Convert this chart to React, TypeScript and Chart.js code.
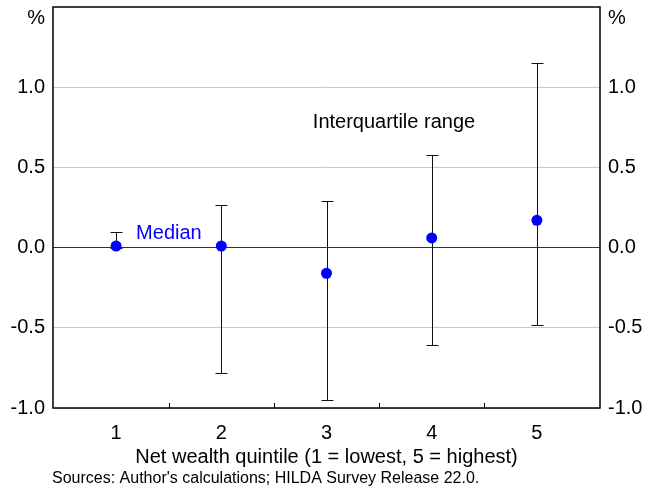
import React, { useEffect, useRef } from "react";
import { Chart, registerables } from "chart.js";

Chart.register(...registerables);

const quintiles = [1, 2, 3, 4, 5];
const medianValues = [0.01, 0.01, -0.16, 0.06, 0.17];
const lowerQuartile = [0.0, -0.78, -0.95, -0.61, -0.48];
const upperQuartile = [0.1, 0.265, 0.29, 0.58, 1.15];
const yTicks = [-1, -0.5, 0, 0.5, 1];
const xBoundaries = [1.5, 2.5, 3.5, 4.5];

const FONT = "Arial, 'Liberation Sans', sans-serif";
const BLUE = "#0000ff";

const overlayPlugin = {
  id: "overlay",
  beforeDatasetsDraw(chart: any) {
    const { ctx, chartArea, scales } = chart;
    const x = scales.x;
    const y = scales.y;
    ctx.save();
    // frame
    ctx.strokeStyle = "#000";
    ctx.lineWidth = 1.5;
    ctx.strokeRect(chartArea.left, chartArea.top, chartArea.right - chartArea.left, chartArea.bottom - chartArea.top);
    // inward tick marks between categories
    ctx.lineWidth = 1;
    ctx.beginPath();
    xBoundaries.forEach((b) => {
      const px = Math.round(x.getPixelForValue(b)) + 0.5;
      ctx.moveTo(px, chartArea.bottom);
      ctx.lineTo(px, chartArea.bottom - 5);
    });
    ctx.stroke();
    // interquartile whiskers
    ctx.strokeStyle = "#111";
    ctx.lineWidth = 1;
    quintiles.forEach((q, i) => {
      const px = Math.round(x.getPixelForValue(q)) + 0.5;
      const lo = Math.round(y.getPixelForValue(lowerQuartile[i])) + 0.5;
      const hi = Math.round(y.getPixelForValue(upperQuartile[i])) + 0.5;
      ctx.beginPath();
      ctx.moveTo(px, lo);
      ctx.lineTo(px, hi);
      ctx.moveTo(px - 6, lo);
      ctx.lineTo(px + 6, lo);
      ctx.moveTo(px - 6, hi);
      ctx.lineTo(px + 6, hi);
      ctx.stroke();
    });
    ctx.restore();
  },
  afterDraw(chart: any) {
    const { ctx, chartArea, scales } = chart;
    const x = scales.x;
    const y = scales.y;
    ctx.save();
    ctx.textBaseline = "middle";
    ctx.font = `20px ${FONT}`;
    ctx.fillStyle = "#000";
    // unit labels
    ctx.textAlign = "right";
    ctx.fillText("%", chartArea.left - 8, chartArea.top + 11);
    ctx.textAlign = "left";
    ctx.fillText("%", chartArea.right + 8, chartArea.top + 11);
    // annotations
    ctx.fillStyle = BLUE;
    ctx.fillText("Median", x.getPixelForValue(1.19), y.getPixelForValue(0.085));
    ctx.fillStyle = "#000";
    ctx.fillText("Interquartile range", x.getPixelForValue(2.87), y.getPixelForValue(0.78));
    // source
    ctx.font = `16px ${FONT}`;
    ctx.fillText("Sources: Author's calculations; HILDA Survey Release 22.0.", 52, 479);
    ctx.restore();
  },
};

function noPad(s: any) {
  s.paddingTop = 0;
  s.paddingBottom = 0;
  s.paddingLeft = 0;
  s.paddingRight = 0;
}

export default function App() {
  const canvasRef = useRef<HTMLCanvasElement | null>(null);

  useEffect(() => {
    if (!canvasRef.current) return;
    Chart.defaults.font.family = FONT;
    const tickFont = { family: FONT, size: 20 };
    const chart = new Chart(canvasRef.current, {
      type: "scatter",
      data: {
        datasets: [
          {
            label: "Median",
            data: quintiles.map((q, i) => ({ x: q, y: medianValues[i] })),
            backgroundColor: BLUE,
            borderColor: BLUE,
            pointRadius: 5.5,
            pointBorderWidth: 0,
          },
        ],
      },
      options: {
        responsive: false,
        animation: false,
        layout: { padding: { top: 7, left: 0, right: 0, bottom: 0 } },
        plugins: { legend: { display: false }, tooltip: { enabled: false } },
        scales: {
          x: {
            type: "linear",
            min: 0.4,
            max: 5.6,
            afterBuildTicks: (s: any) => {
              s.ticks = quintiles.map((v) => ({ value: v }));
            },
            afterFit: (s: any) => {
              s.height = 80;
              noPad(s);
            },
            grid: { display: false, drawTicks: false },
            border: { display: false },
            ticks: {
              font: tickFont,
              color: "#000",
              padding: 13,
              maxRotation: 0,
              autoSkip: false,
              callback: (v: any) => String(v),
            },
            title: {
              display: true,
              text: "Net wealth quintile (1 = lowest, 5 = highest)",
              font: { family: FONT, size: 20 },
              color: "#000",
              padding: { top: 0, bottom: 19 },
            },
          },
          y: {
            position: "left",
            min: -1,
            max: 1.5,
            afterBuildTicks: (s: any) => {
              s.ticks = yTicks.map((v) => ({ value: v }));
            },
            afterFit: (s: any) => {
              s.width = 53;
              noPad(s);
            },
            grid: {
              drawTicks: false,
              color: (c: any) => (c.tick && c.tick.value === 0 ? "#333" : "#c8c8c8"),
              lineWidth: 1,
            },
            border: { display: false },
            ticks: {
              font: tickFont,
              color: "#000",
              padding: 8,
              callback: (v: any) => Number(v).toFixed(1),
            },
          },
          y2: {
            position: "right",
            min: -1,
            max: 1.5,
            afterBuildTicks: (s: any) => {
              s.ticks = yTicks.map((v) => ({ value: v }));
            },
            afterFit: (s: any) => {
              s.width = 52;
              noPad(s);
            },
            grid: { display: false, drawTicks: false },
            border: { display: false },
            ticks: {
              font: tickFont,
              color: "#000",
              padding: 8,
              callback: (v: any) => Number(v).toFixed(1),
            },
          },
        },
      } as any,
      plugins: [overlayPlugin],
    });
    return () => chart.destroy();
  }, []);

  return (
    <div style={{ position: "fixed", left: 0, top: 0, width: 652, height: 488, background: "#fff" }}>
      <canvas ref={canvasRef} width={652} height={488} style={{ display: "block" }} />
    </div>
  );
}
